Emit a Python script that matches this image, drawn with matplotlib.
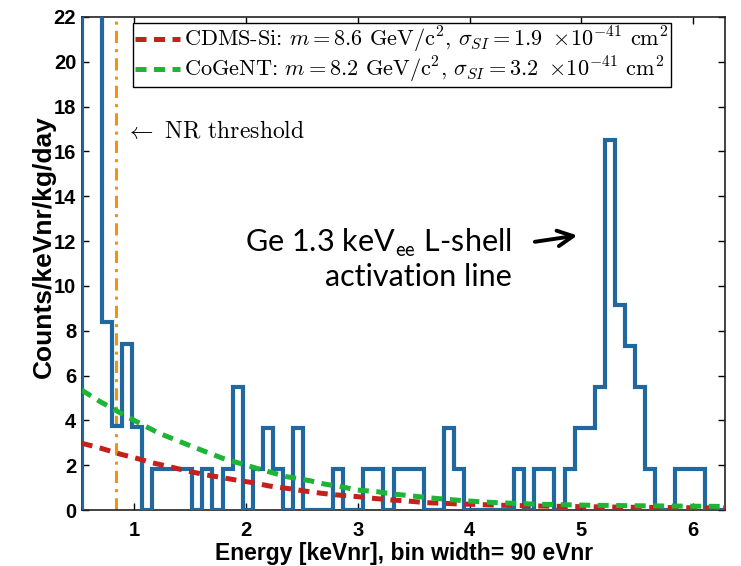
import matplotlib
matplotlib.use('Agg')
import matplotlib.pyplot as plt
import numpy as np

plt.rcParams['mathtext.fontset'] = 'cm'

# histogram, 90 eVnr bins starting at 0.53 keVnr
bin_start = 0.53
bin_width = 0.09
counts = [30, 30, 8.4, 3.75, 7.4, 3.7, 0,
          1.83, 1.83, 1.83, 1.83, 0, 1.83, 0, 1.83, 5.5, 0,
          1.83, 3.67, 1.83, 0, 3.67, 0, 0, 0, 1.83, 0, 0,
          1.83, 1.83, 0, 1.83, 1.83, 1.83, 0, 0, 3.67, 1.83,
          0, 0, 0, 0, 0, 1.83, 0, 1.83, 1.83, 0, 1.83,
          3.67, 3.67, 5.5, 16.5, 9.17, 7.34, 5.5, 1.83,
          0, 0, 1.83, 1.83, 1.83, 0, 0]

# model curves
cdms_E = [0.53, 0.70, 0.87, 1.02, 1.15, 1.31, 1.46, 1.64, 1.91, 2.06, 2.21,
          2.39, 2.52, 2.67, 2.82, 2.99, 3.14, 3.30, 3.45, 3.61, 3.76, 3.91,
          4.06, 4.22, 4.6, 5.0, 5.5, 6.0, 6.29]
cdms_rate = [2.98, 2.76, 2.5, 2.31, 2.12, 1.94, 1.76, 1.57, 1.34, 1.22, 1.07,
             0.95, 0.85, 0.75, 0.67, 0.6, 0.52, 0.45, 0.40, 0.33, 0.30, 0.27,
             0.25, 0.22, 0.18, 0.15, 0.12, 0.1, 0.09]
cogent_E = [0.53, 0.69, 0.96, 1.22, 1.52, 1.79, 2.09, 2.36, 2.57, 2.70, 2.85,
            3.00, 3.17, 3.31, 3.48, 3.63, 3.79, 3.94, 4.09, 4.24, 4.6, 5.0,
            5.5, 6.0, 6.29]
cogent_rate = [5.35, 4.85, 4.1, 3.43, 2.83, 2.31, 1.87, 1.49, 1.31, 1.16, 1.04,
               0.89, 0.82, 0.72, 0.63, 0.55, 0.48, 0.42, 0.37, 0.33, 0.26, 0.22,
               0.19, 0.17, 0.16]

nr_threshold = 0.84

cdms_label = (r'CDMS-Si: $m = 8.6$ GeV/c$^2$, $\sigma_{SI} = 1.9\ \times\!10^{-41}$ cm$^2$')
cogent_label = (r'CoGeNT: $m = 8.2$ GeV/c$^2$, $\sigma_{SI} = 3.2\ \times\!10^{-41}$ cm$^2$')

edges = bin_start + bin_width * np.arange(len(counts) + 1)

fig = plt.figure(figsize=(7.41, 5.66), dpi=100)
ax = fig.add_axes([0.1103, 0.0989, 0.8687, 0.8711])

ax.stairs(counts, edges, baseline=0, fill=False, color='#21689f', lw=3.0, zorder=3)
ax.plot(cdms_E, cdms_rate, color='#c4201d', lw=3.6, dashes=(2.2, 1.5),
        label=cdms_label, zorder=4)
ax.plot(cogent_E, cogent_rate, color='#1db536', lw=3.6, dashes=(2.2, 1.5),
        label=cogent_label, zorder=4)
ax.axvline(nr_threshold, color='#f2930f', lw=2.2, dashes=(4, 2, 1, 2), zorder=2)

ax.set_xlim(edges[0], edges[-1])
ax.set_ylim(0, 22)
ax.set_xticks(range(1, 7))
ax.set_yticks(range(0, 23, 2))
ax.tick_params(direction='in', top=True, right=True, length=5, width=1,
               labelsize=14.5)
ax.tick_params(axis='x', pad=8)
ax.tick_params(axis='y', pad=4)
for lab in ax.get_xticklabels() + ax.get_yticklabels():
    lab.set_fontweight('bold')
    lab.set_family('Liberation Sans')
for sp in ax.spines.values():
    sp.set_linewidth(1.2)
    sp.set_color('#222222')

ax.set_xlabel('Energy [keVnr], bin width= 90 eVnr', fontsize=16.5, fontweight='bold',
              family='Liberation Sans', labelpad=1)
ax.set_ylabel('Counts/keVnr/kg/day', fontsize=19, fontweight='bold',
              family='Liberation Sans')
ax.yaxis.set_label_coords(-0.04, 0.534)

leg = ax.legend(loc='upper left', bbox_to_anchor=(0.0797, 0.988), borderaxespad=0,
                prop={'family': 'cmr10', 'size': 16}, handlelength=2.0,
                handletextpad=0.2, borderpad=0.1, labelspacing=0.0,
                fancybox=False, framealpha=1)
leg.get_frame().set_edgecolor('black')
leg.get_frame().set_linewidth(1.0)

ax.text(0.92, 16.9, r'$\leftarrow$ NR threshold', family='cmr10', fontsize=17,
        va='center', ha='left')

ax.text(4.38, 11.2, 'Ge 1.3 keV$_{\\mathsf{ee}}$ L-shell\nactivation line',
        family='Lato', fontsize=22, ha='right', va='center', linespacing=1.15)
ax.annotate('', xy=(4.99, 12.27), xytext=(4.56, 11.95),
            arrowprops=dict(arrowstyle='->', color='black', lw=2.8,
                            mutation_scale=28))

fig.savefig('out.png', dpi=100)
